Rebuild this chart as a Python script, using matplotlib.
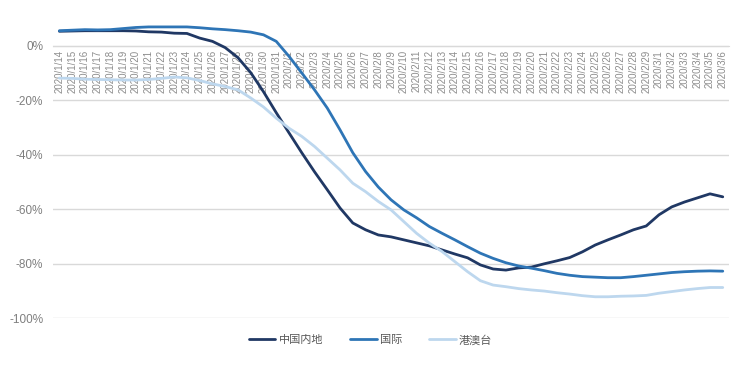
import matplotlib.pyplot as plt
from matplotlib.ticker import FuncFormatter

plt.rcParams['font.family'] = ['Liberation Sans', 'Noto Sans CJK SC']

dates = (['2020/1/%d' % d for d in range(14, 32)]
         + ['2020/2/%d' % d for d in range(1, 30)]
         + ['2020/3/%d' % d for d in range(1, 7)])

mainland = [5.3, 5.4, 5.5, 5.5, 5.5, 5.5, 5.4, 5.1, 5.0, 4.6, 4.5, 2.8, 1.6, -0.7,
            -4.4, -9.9, -16.9, -24.6, -32.0, -39.3, -46.3, -52.9, -59.6, -65.1, -67.6, -69.5,
            -70.2, -71.3, -72.4, -73.5, -75.0, -76.5, -77.9, -80.5, -82.0, -82.4, -81.6, -81.3,
            -80.1, -79.0, -77.8, -75.7, -73.2, -71.3, -69.5, -67.6, -66.2, -62.1, -59.2, -57.4,
            -55.9, -54.4, -55.5]
international = [5.5, 5.7, 5.9, 5.8, 5.9, 6.3, 6.7, 6.9, 6.9, 6.9, 6.9, 6.6, 6.2, 5.9,
                 5.5, 5.0, 4.0, 1.6, -3.9, -10.0, -16.2, -22.9, -30.9, -39.3, -46.2, -51.9,
                 -56.6, -60.3, -63.2, -66.4, -68.9, -71.3, -73.8, -76.2, -78.1, -79.7, -80.9, -81.7,
                 -82.6, -83.6, -84.3, -84.8, -85.0, -85.2, -85.2, -84.8, -84.3, -83.8, -83.3, -83.0,
                 -82.8, -82.7, -82.8]
hk_mo_tw = [-11.9, -12.0, -12.3, -12.4, -12.5, -12.6, -12.6, -12.4, -12.0, -11.5, -11.8, -12.8, -14.0, -15.0,
            -16.2, -19.2, -22.5, -26.6, -30.3, -33.3, -37.0, -41.3, -45.6, -50.5, -53.6, -57.2,
            -60.3, -64.6, -68.9, -72.5, -75.6, -79.3, -83.0, -86.3, -87.9, -88.5, -89.2, -89.7,
            -90.1, -90.7, -91.2, -91.8, -92.2, -92.2, -92.0, -91.9, -91.7, -90.9, -90.3, -89.7,
            -89.2, -88.8, -88.8]

series = [('中国内地', mainland, '#203864'),
          ('国际', international, '#2e75b6'),
          ('港澳台', hk_mo_tw, '#bdd7ee')]

fig = plt.figure(figsize=(7.41, 3.89), dpi=100)
ax = fig.add_axes([0.0715, 0.1825, 0.9125, 0.77])

x = list(range(len(dates)))
for name, vals, color in series:
    ax.plot(x, vals, color=color, lw=2.0, label=name, solid_capstyle='round', zorder=3)

ax.set_xlim(-0.5, len(dates) - 0.5)
ax.set_ylim(-100, 10)
ax.set_yticks([-100, -80, -60, -40, -20, 0])
ax.yaxis.set_major_formatter(FuncFormatter(lambda v, p: '%d%%' % v))
ax.grid(axis='y', color='#d9d9d9', lw=1.0, zorder=0)

for s in ['top', 'right', 'left']:
    ax.spines[s].set_visible(False)
ax.spines['bottom'].set_position(('data', 0))
ax.spines['bottom'].set_color('#d9d9d9')

ax.set_xticks(x)
ax.set_xticklabels(dates, rotation=90, fontsize=7, color='#8c8c8c', va='top')
ax.tick_params(axis='x', length=0, pad=3)
ax.tick_params(axis='y', length=0, pad=7, labelsize=8.5, labelcolor='#7f7f7f')

fig.legend(loc='center', bbox_to_anchor=(0.5, 0.126), ncol=3, frameon=False,
           fontsize=8, labelcolor='#595959', handlelength=2.4, handletextpad=0.3,
           columnspacing=2.4)

fig.savefig('out.png', dpi=100)
